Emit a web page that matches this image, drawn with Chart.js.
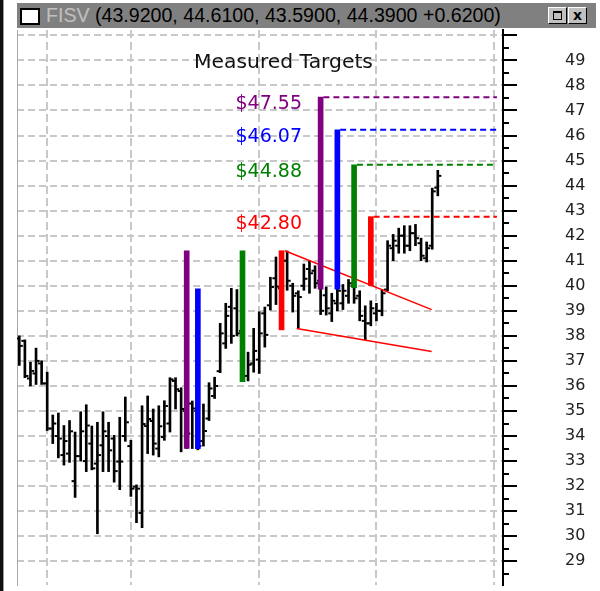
<!DOCTYPE html>
<html>
<head>
<meta charset="utf-8">
<title>FISV Measured Targets</title>
<script src="https://cdn.jsdelivr.net/npm/chart.js@4.4.1/dist/chart.umd.min.js"></script>
<style>
  html, body { margin:0; padding:0; background:#fff; }
  #wrap { position:relative; width:600px; height:591px; overflow:hidden; background:#fff; }
  #chart { position:absolute; left:0; top:0; }
  #edge { position:absolute; left:0; top:0; width:3px; height:591px; background:#101010; }
  #edge2 { position:absolute; left:3px; top:0; width:1px; height:591px; background:#9a9a9a; }
  #bar { position:absolute; left:17px; top:3px; width:579px; height:25px; background:#808080;
         font-family:"Liberation Sans", Arial, sans-serif; font-size:19.6px; white-space:nowrap; }
  #icon { position:absolute; left:3px; top:5px; width:16px; height:13px; background:#fff; border:2px solid #000; }
  #ttl { position:absolute; left:29px; top:1px; line-height:23px; color:#000; }
  #ttl .sym { color:#c0c0c0; }
  .btn { position:absolute; top:4px; width:17px; height:15px; background:#c0c0c0;
         border-top:1px solid #fff; border-left:1px solid #fff; border-right:1px solid #000; border-bottom:1px solid #000; }
  #b1 { left:531px; }
  #b1 i { position:absolute; left:4px; top:3px; width:7px; height:6px; border:1px solid #000; border-top-width:2px; }
  #b2 { left:551px; font: bold 14px "DejaVu Sans", sans-serif; text-align:center; line-height:15px; color:#000; }
</style>
</head>
<body>
<div id="wrap">
  <canvas id="chart" width="600" height="591"></canvas>
  <div id="edge"></div><div id="edge2"></div>
  <div id="bar">
    <div id="icon"></div>
    <div id="ttl"><span class="sym">FISV</span> <span id="quote"></span></div>
    <div class="btn" id="b1"><i></i></div>
    <div class="btn" id="b2">x</div>
  </div>
</div>
<script>
// ---------------- data ----------------
const symbol = 'FISV';
const ohlcOpen = [
  37.9, 37.8, 36.3, 36.5, 36.9, 36.1, 34.3, 34.0, 33.24, 33.3,
  32.2, 33.2, 33.0, 33.7, 32.9, 33.63, 34.0, 33.9, 32.98, 34.0,
  33.6, 31.98, 30.93, 34.4, 34.6, 33.5, 33.96, 34.5, 36.2, 35.8,
  35.0, 35.3, 35.0, 33.8, 34.7, 35.6, 36.59, 37.7, 39.16, 39.1,
  38.2, 36.4, 36.9, 37.05, 38.9, 39.22, 40.3, 39.9, 41.0, 40.0,
  39.7, 40.0, 40.67, 40.6, 40.2, 39.62, 38.9, 39.3, 39.3, 39.6,
  40.0, 39.6, 38.6, 38.5, 38.9, 39.0, 39.85, 41.5, 41.6, 42.0,
  41.6, 42.1, 41.7, 41.1, 41.6, 43.92
];
const ohlcHigh = [
  38.0, 37.84, 36.95, 37.51, 37.0, 36.55, 34.84, 34.92, 34.42, 34.62,
  34.16, 34.97, 35.25, 34.4, 34.55, 34.97, 34.55, 34.03, 34.75, 35.56,
  33.83, 32.05, 35.21, 35.6, 35.08, 35.21, 35.41, 36.33, 36.33, 35.93,
  35.3, 35.4, 35.0, 35.28, 36.13, 36.35, 38.5, 39.3, 39.9, 39.85,
  38.5, 37.35, 38.3, 38.96, 39.15, 40.34, 41.15, 41.2, 41.39, 40.1,
  39.8, 40.87, 41.0, 40.8, 40.5, 39.95, 39.7, 39.9, 40.05, 40.25,
  40.2, 39.8, 39.2, 39.4, 39.3, 39.85, 41.8, 42.05, 42.3, 42.4,
  42.4, 42.45, 41.9, 41.75, 43.9, 44.61
];
const ohlcLow = [
  36.82, 36.33, 36.0, 36.06, 36.06, 34.22, 33.7, 33.13, 32.84, 32.95,
  31.55, 33.0, 32.58, 32.65, 30.1, 32.58, 32.58, 32.16, 31.86, 33.79,
  31.59, 30.54, 30.34, 33.3, 33.24, 33.17, 33.83, 34.16, 35.08, 33.37,
  33.5, 33.5, 33.45, 33.6, 34.62, 35.5, 36.53, 37.5, 37.7, 38.0,
  36.2, 36.2, 36.55, 36.5, 37.55, 39.03, 39.25, 39.6, 39.82, 38.95,
  38.3, 39.82, 39.7, 39.9, 38.85, 38.83, 38.57, 39.0, 39.05, 39.3,
  39.3, 38.6, 37.85, 38.4, 38.6, 38.8, 39.8, 41.0, 41.3, 41.3,
  41.4, 41.6, 41.0, 40.95, 41.46, 43.59
];
const ohlcClose = [
  37.6, 36.4, 36.6, 37.0, 36.1, 34.3, 34.5, 33.9, 33.8, 34.19,
  33.2, 34.19, 34.42, 32.71, 33.24, 34.19, 33.43, 32.6, 32.98, 34.55,
  31.9, 31.9, 34.48, 34.68, 33.7, 34.39, 35.2, 36.26, 35.87, 35.08,
  34.1, 35.1, 33.6, 34.2, 35.9, 36.0, 38.1, 38.8, 38.0, 38.1,
  36.4, 36.85, 37.4, 38.1, 38.04, 39.95, 39.97, 41.0, 40.2, 39.6,
  39.55, 40.28, 40.5, 40.1, 39.0, 39.1, 39.4, 39.8, 39.8, 40.1,
  39.5, 38.8, 38.5, 39.1, 39.0, 39.7, 41.6, 41.8, 42.0, 41.6,
  42.1, 41.9, 41.2, 41.5, 43.77, 44.39
];

// measured-move bars (flag poles and projections)
const targetBarIndex = [30, 32, 40, 47, 54, 57, 60, 63];
const targetBarLow   = [33.51, 33.5, 36.17, 38.24, 39.86, 39.86, 39.92, 40.01];
const targetBarHigh  = [41.40, 39.88, 41.40, 41.40, 47.53, 46.23, 44.83, 42.76];
const targetBarColor = ['#800080', '#0000ff', '#008000', '#ff0000', '#800080', '#0000ff', '#008000', '#ff0000'];

// target levels (dashed lines) and their captions
const targetStartIndex = [54, 57, 60, 63];
const targetLevels = [47.53, 46.23, 44.83, 42.76];
const targetLabels = ['$47.55', '$46.07', '$44.88', '$42.80'];
const targetColors = ['#800080', '#0000ff', '#008000', '#ff0000'];
const targetEndIndex = 85.6;

// wedge trend lines
const wedgeUpper = [{x: 47.6, y: 41.40}, {x: 73.9, y: 39.05}];
const wedgeLower = [{x: 49.7, y: 38.29}, {x: 73.9, y: 37.38}];

// axes
const yMajorTicks = [29,30,31,32,33,34,35,36,37,38,39,40,41,42,43,44,45,46,47,48,49,50];
const yMinorTicks = [28.5,29.5,30.5,31.5,32.5,33.5,34.5,35.5,36.5,37.5,38.5,39.5,40.5,41.5,42.5,43.5,44.5,45.5,46.5,47.5,48.5,49.5];
const xGridIndex = [5, 20, 43, 64, 85];
const chartTitle = 'Measured Targets';

// ---------------- build ----------------
const n = ohlcClose.length;
const last = n - 1;
const chg = ohlcClose[last] - ohlcClose[last - 1];
document.getElementById('quote').textContent =
  '(' + [ohlcOpen[last], ohlcHigh[last], ohlcLow[last], ohlcClose[last]].map(v => v.toFixed(4)).join(', ') +
  ' ' + (chg >= 0 ? '+' : '') + chg.toFixed(4) + ')';
document.querySelector('#ttl .sym').textContent = symbol;

const idx = ohlcClose.map((_, i) => i);
const TICK_OFF = 0.4;
const AX = { xAxisID: 'x', yAxisID: 'y' };

const datasets = [];
datasets.push(Object.assign({
  type: 'bar', label: 'range',
  data: idx.map(i => ({x: i, y: [ohlcLow[i], ohlcHigh[i]]})),
  backgroundColor: '#000', borderWidth: 0, barThickness: 2, grouped: false, order: 6
}, AX));
datasets.push(Object.assign({
  type: 'scatter', label: 'open',
  data: idx.map(i => ({x: i - TICK_OFF, y: ohlcOpen[i]})),
  pointStyle: 'line', pointRadius: 1.3, borderColor: '#000', borderWidth: 2, order: 5
}, AX));
datasets.push(Object.assign({
  type: 'scatter', label: 'close',
  data: idx.map(i => ({x: i + TICK_OFF, y: ohlcClose[i]})),
  pointStyle: 'line', pointRadius: 1.3, borderColor: '#000', borderWidth: 2, order: 5
}, AX));
datasets.push(Object.assign({
  type: 'bar', label: 'targets',
  data: targetBarIndex.map((ix, k) => ({x: ix, y: [targetBarLow[k], targetBarHigh[k]]})),
  backgroundColor: targetBarColor, borderWidth: 0, barThickness: 5, grouped: false, order: 1
}, AX));
targetLevels.forEach((lv, k) => {
  datasets.push(Object.assign({
    type: 'line', label: targetLabels[k],
    data: [{x: targetStartIndex[k] + 0.5, y: lv}, {x: targetEndIndex, y: lv}],
    borderColor: targetColors[k], borderWidth: 2, borderDash: [6, 4], pointRadius: 0, fill: false, order: 2
  }, AX));
});
[wedgeUpper, wedgeLower].forEach(seg => {
  datasets.push(Object.assign({
    type: 'line', label: 'wedge', data: seg,
    borderColor: '#ff0000', borderWidth: 1.5, pointRadius: 0, fill: false, order: 2
  }, AX));
});

const decorations = {
  id: 'decorations',
  afterDatasetsDraw(chart) {
    const ctx = chart.ctx, y = chart.scales.y;
    ctx.save();
    ctx.strokeStyle = '#000'; ctx.lineWidth = 2;
    yMinorTicks.forEach(v => {
      const py = Math.round(y.getPixelForValue(v));
      ctx.beginPath(); ctx.moveTo(y.left, py); ctx.lineTo(y.left + 6, py); ctx.stroke();
    });
    ctx.textAlign = 'right'; ctx.textBaseline = 'alphabetic';
    ctx.font = '19px "DejaVu Sans", sans-serif';
    targetLevels.forEach((lv, k) => {
      ctx.fillStyle = targetColors[k];
      ctx.fillText(targetLabels[k], 302, y.getPixelForValue(lv) + 12.3);
    });
    ctx.textAlign = 'center'; ctx.fillStyle = '#111';
    ctx.font = '20.3px "DejaVu Sans", sans-serif';
    ctx.fillText(chartTitle, 283.5, 68.3);
    ctx.restore();
  }
};

new Chart(document.getElementById('chart'), {
  type: 'bar',
  data: { datasets },
  options: {
    responsive: false, animation: false, events: [],
    layout: { padding: { left: 17, top: 30, right: 0, bottom: 0 } },
    plugins: { legend: { display: false }, tooltip: { enabled: false } },
    scales: {
      x: {
        type: 'linear', min: -0.412, max: 86.685, offset: false,
        afterBuildTicks: s => { s.ticks = xGridIndex.map(v => ({value: v})); },
        ticks: { display: false },
        grid: { color: '#c8c8c8', lineWidth: 2, drawTicks: false, offset: false },
        border: { display: false, dash: [8, 4] }
      },
      y: {
        type: 'linear', position: 'right', min: 28.053, max: 50.2127,
        afterBuildTicks: s => { s.ticks = yMajorTicks.map(v => ({value: v})); },
        afterFit: s => { s.width = 97; s.paddingTop = 0; s.paddingBottom = 0; },
        ticks: {
          padding: 48, color: '#222',
          font: { family: '"DejaVu Sans", sans-serif', size: 16 },
          callback: v => (v >= 50 ? '' : String(v))
        },
        grid: { color: '#c8c8c8', lineWidth: 2, drawTicks: true, tickLength: 14, tickColor: '#000', tickWidth: 2 },
        border: { display: true, color: '#000', width: 2, dash: [7, 4] }
      },
      yl: {
        type: 'linear', position: 'left', min: 0, max: 1,
        ticks: { display: false },
        grid: { drawOnChartArea: false, drawTicks: false },
        border: { display: true, color: '#a8a8a8', width: 1 }
      }
    }
  },
  plugins: [decorations]
});
</script>
</body>
</html>
